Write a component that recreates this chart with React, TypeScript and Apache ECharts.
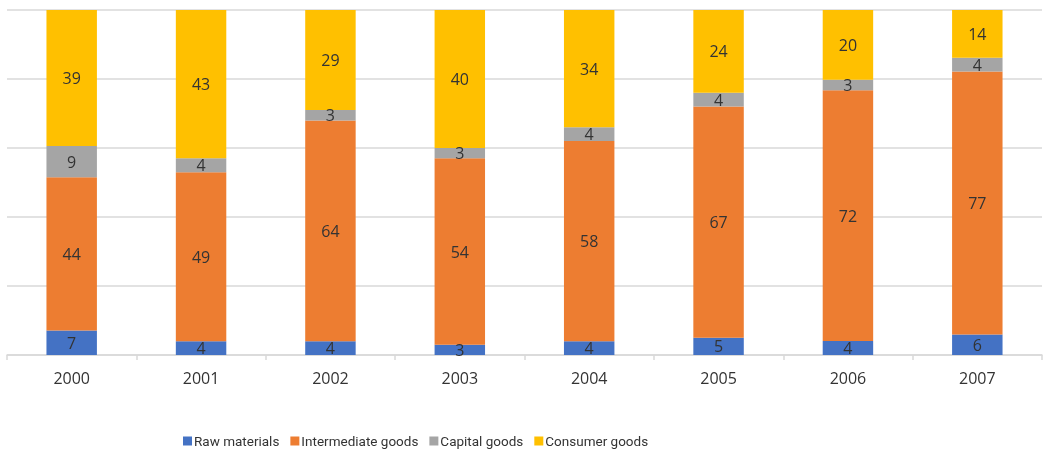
import React, { useEffect, useRef } from "react";
import * as echarts from "echarts";

const years = ["2000", "2001", "2002", "2003", "2004", "2005", "2006", "2007"];
const rawMaterials = [7, 4, 4, 3, 4, 5, 4, 6];
const intermediateGoods = [44, 49, 64, 54, 58, 67, 72, 77];
const capitalGoods = [9, 4, 3, 3, 4, 4, 3, 4];
const consumerGoods = [39, 43, 29, 40, 34, 24, 20, 14];

const seriesDefs = [
  { name: "Raw materials", data: rawMaterials, color: "#4472C4" },
  { name: "Intermediate goods", data: intermediateGoods, color: "#ED7D31" },
  { name: "Capital goods", data: capitalGoods, color: "#A5A5A5" },
  { name: "Consumer goods", data: consumerGoods, color: "#FFC000" },
];

const FONT = "'Open Sans', 'Noto Sans', sans-serif";
const LEGEND_FONT = "Roboto, 'Open Sans', sans-serif";

export default function App() {
  const ref = useRef<HTMLDivElement>(null);
  useEffect(() => {
    if (!ref.current) return;
    const chart = echarts.init(ref.current, undefined, { renderer: "svg" });
    const totals = years.map((_, i) =>
      seriesDefs.reduce((s, d) => s + d.data[i], 0)
    );
    chart.setOption({
      animation: false,
      textStyle: { fontFamily: FONT },
      legend: {
        top: 429,
        left: 178,
        itemWidth: 9,
        itemHeight: 9,
        itemGap: 11,
        icon: "rect",
        textStyle: { fontSize: 13.5, color: "#333", fontFamily: LEGEND_FONT, padding: [0, 0, 0, -3] },
        data: seriesDefs.map((d) => d.name),
      },
      grid: { left: 7, right: 1, top: 10, bottom: 96, containLabel: false },
      xAxis: {
        type: "category",
        data: years,
        boundaryGap: true,
        axisLine: { lineStyle: { color: "#d9d9d9", width: 1.5 } },
        axisTick: { show: true, length: 5, lineStyle: { color: "#d9d9d9", width: 1.5 } },
        axisLabel: { fontSize: 16, color: "#333", margin: 15, fontFamily: FONT },
      },
      yAxis: {
        type: "value",
        min: 0,
        max: 100,
        interval: 20,
        axisLabel: { show: false },
        axisLine: { show: false },
        axisTick: { show: false },
        splitLine: { lineStyle: { color: "#d9d9d9", width: 1.5 } },
      },
      series: seriesDefs.map((d) => ({
        name: d.name,
        type: "bar",
        stack: "total",
        barWidth: "39%",
        itemStyle: { color: d.color },
        label: {
          show: true,
          position: "inside",
          fontSize: 16,
          color: "#333",
          fontFamily: FONT,
          formatter: (p: any) => String(d.data[p.dataIndex]),
        },
        data: d.data.map((v, i) => (v / totals[i]) * 100),
      })),
    });
    return () => chart.dispose();
  }, []);
  return (
    <div
      ref={ref}
      style={{ position: "fixed", left: 0, top: 0, width: 1043, height: 451 }}
    />
  );
}
